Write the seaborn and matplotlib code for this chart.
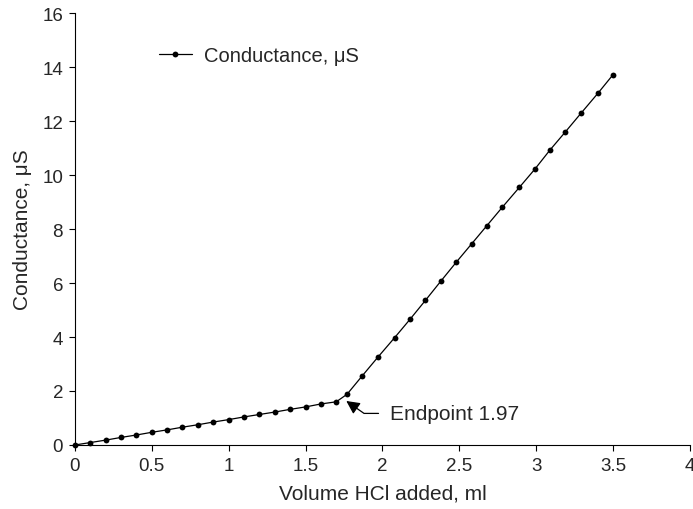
import matplotlib
matplotlib.use("Agg")
import matplotlib.pyplot as plt
import seaborn as sns
import pandas as pd

# titration readings (volume of HCl in ml, conductance in microsiemens)
volume_before = [0.0, 0.1, 0.2, 0.3, 0.4, 0.5, 0.6, 0.7, 0.8, 0.9,
                 1.0, 1.1, 1.2, 1.3, 1.4, 1.5, 1.6, 1.7]
cond_before = [0.0, 0.09, 0.18, 0.28, 0.37, 0.47, 0.56, 0.66, 0.75, 0.85,
               0.94, 1.04, 1.13, 1.22, 1.32, 1.41, 1.52, 1.60]
volume_after = [1.77, 1.87, 1.97, 2.08, 2.18, 2.28, 2.38, 2.48, 2.58,
                2.68, 2.78, 2.89, 2.99, 3.09, 3.19, 3.29, 3.40, 3.50]
cond_after = [1.88, 2.57, 3.25, 3.98, 4.66, 5.36, 6.07, 6.77, 7.45,
              8.13, 8.81, 9.54, 10.21, 10.93, 11.60, 12.28, 13.02, 13.72]

endpoint_label = "Endpoint 1.97"
series_name = "Conductance, \u03bcS"

df = pd.DataFrame({
    "volume": volume_before + volume_after,
    "conductance": cond_before + cond_after,
})

sns.set_style("ticks")
plt.rcParams["font.family"] = ["Liberation Sans", "DejaVu Sans"]

fig = plt.figure(figsize=(6.93, 5.10), dpi=100)
ax = fig.add_axes([0.108, 0.1255, 0.8877, 0.847])

sns.lineplot(data=df, x="volume", y="conductance", ax=ax, color="black",
             linewidth=0.9, marker="o", markersize=4.2, markeredgewidth=0,
             label=series_name, clip_on=False, sort=False)

ax.set_xlim(0, 4)
ax.set_ylim(0, 16)
ax.set_xticks([0, 0.5, 1, 1.5, 2, 2.5, 3, 3.5, 4])
ax.set_xticklabels(["0", "0.5", "1", "1.5", "2", "2.5", "3", "3.5", "4"])
ax.set_yticks(range(0, 17, 2))
ax.tick_params(labelsize=13.5, length=4.5, width=0.8, color="black", pad=4)
ax.set_xlabel("Volume HCl added, ml", fontsize=15, labelpad=7)
ax.set_ylabel(series_name, fontsize=15, labelpad=7)
sns.despine(ax=ax)
for s in ["left", "bottom"]:
    ax.spines[s].set_linewidth(0.8)
    ax.spines[s].set_color("black")

# arrow pointing at the break in the curve
ax.annotate(endpoint_label, xy=(1.765, 1.63), xytext=(2.05, 1.17),
            fontsize=15, va="center", ha="left",
            arrowprops=dict(arrowstyle="-|>", color="black", lw=0.9,
                            mutation_scale=20, shrinkA=6, shrinkB=0,
                            connectionstyle="angle,angleA=0,angleB=-35"))

leg = ax.legend(loc="upper left", bbox_to_anchor=(0.107, 0.965), frameon=False,
                fontsize=14.5, handlelength=1.65, handletextpad=0.6)

fig.savefig("out.png", dpi=100)
